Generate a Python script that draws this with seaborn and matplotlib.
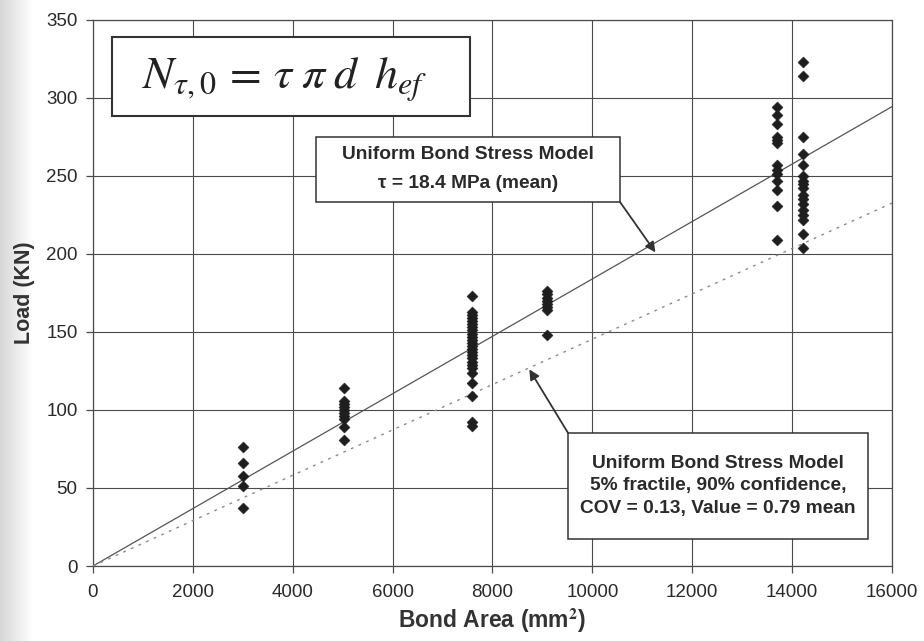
import numpy as np
import pandas as pd
import matplotlib
matplotlib.use("Agg")
import matplotlib.pyplot as plt
from matplotlib.patches import Rectangle
import seaborn as sns

# ---- data ----
area_groups = [3000, 5030, 7580, 9100, 13700, 14220]
loads_3000 = [76, 66, 58, 51, 37]
loads_5030 = [114, 106, 104, 102, 100, 98, 96, 94, 89, 81]
loads_7580 = [173, 163, 161, 159, 157, 155, 153, 151, 149, 147, 145, 143, 141,
              139, 137, 135, 133, 131, 129, 127, 124, 117, 109, 92, 90]
loads_9100 = [176, 174, 172, 170, 168, 166, 164, 148]
loads_13700 = [294, 289, 283, 275, 273, 271, 257, 254, 251, 247, 241, 231, 209]
loads_14220 = [323, 314, 275, 264, 257, 250, 247, 245, 242, 238, 235, 232,
               228, 225, 222, 213, 204]

tau_mean = 18.4          # MPa
fractile_factor = 0.79
line_area = [0, 16000]

x_ticks = [0, 2000, 4000, 6000, 8000, 10000, 12000, 14000, 16000]
y_ticks = [0, 50, 100, 150, 200, 250, 300, 350]

all_loads = [loads_3000, loads_5030, loads_7580, loads_9100, loads_13700, loads_14220]
rows = []
for a, ls in zip(area_groups, all_loads):
    for v in ls:
        rows.append((a, v))
df = pd.DataFrame(rows, columns=["area", "load"])

# ---- figure ----
sns.set_theme(style="white")
plt.rcParams['font.family'] = ['Liberation Sans', 'DejaVu Sans']
plt.rcParams['mathtext.fontset'] = 'stix'

fig = plt.figure(figsize=(9.24, 6.41), dpi=100)
fig.patch.set_facecolor("white")

# scanned left-edge shading
bg = fig.add_axes([0, 0, 0.035, 1], zorder=-10)
grad = np.linspace(0.84, 1.0, 64)[None, :]
bg.imshow(np.repeat(grad, 8, axis=0), cmap="gray", vmin=0, vmax=1,
          aspect="auto", extent=[0, 1, 0, 1])
bg.axis("off")

ax = fig.add_axes([0.1006, 0.117, 0.8648, 0.852])
ax.set_facecolor("white")

sns.scatterplot(data=df, x="area", y="load", marker="D", s=32,
                color="#1e1e1e", edgecolor="#1e1e1e", linewidth=0.3,
                ax=ax, zorder=5)

line_x = np.array(line_area, dtype=float)
mean_y = tau_mean * line_x / 1000.0
frac_y = fractile_factor * mean_y
ax.plot(line_x, mean_y, color="#555555", lw=0.9, zorder=4)
ax.plot(line_x, frac_y, color="#8a8a8a", lw=1.0, ls=(0, (2, 4)), zorder=4)

ax.set_xlim(0, 16000)
ax.set_ylim(0, 350)
ax.set_xticks(x_ticks)
ax.set_yticks(y_ticks)
ax.set_xticklabels([str(t) for t in x_ticks], fontsize=13.5, color="#2a2a2a")
ax.set_yticklabels([str(t) for t in y_ticks], fontsize=13.5, color="#2a2a2a")
ax.grid(True, color="#4a4a4a", lw=0.8)
ax.set_axisbelow(True)
for sp in ax.spines.values():
    sp.set_visible(True)
    sp.set_color("#4a4a4a")
    sp.set_linewidth(0.9)
ax.tick_params(axis="both", direction="out", length=5, width=0.9,
               color="#4a4a4a", left=True, bottom=True)
ax.tick_params(axis="x", pad=8)
ax.tick_params(axis="y", pad=6)

ax.set_xlabel("Bond Area (mm$^\\mathbf{2}$)", fontsize=16.5, fontweight="bold",
              color="#333333", labelpad=4)
ax.set_ylabel("Load (KN)", fontsize=15.5, fontweight="bold", color="#333333",
              labelpad=8)

box_kw = dict(fill=True, fc="white", ec="#333333", zorder=9)

# equation box
ax.add_patch(Rectangle((380, 288.5), 7549 - 380, 339 - 288.5, lw=1.5, **box_kw))
ax.text(3845, 312, r"$N_{\tau,0} \,=\, \tau\;\pi\;d\;\;h_{ef}$", fontsize=33,
        ha="center", va="center", color="#222222", zorder=10)

# annotation box 1
ax.add_patch(Rectangle((4465, 233.3), 10553 - 4465, 275 - 233.3, lw=1.1, **box_kw))
ax.text(7515, 254.5, "Uniform Bond Stress Model\n\u03c4 = 18.4 MPa (mean)",
        ha="center", va="center", fontsize=13.8, fontweight="bold",
        color="#2a2a2a", linespacing=1.95, zorder=10)
ax.annotate("", xy=(11263, 201), xytext=(10553, 233.3),
            arrowprops=dict(arrowstyle="-|>", color="#333333", lw=1.3,
                            mutation_scale=15, shrinkA=0, shrinkB=0),
            zorder=10)

# annotation box 2
ax.add_patch(Rectangle((9512, 17.3), 15519 - 9512, 85.3 - 17.3, lw=1.1, **box_kw))
ax.text(12515, 51.3,
        "Uniform Bond Stress Model\n5% fractile, 90% confidence,\nCOV = 0.13, Value = 0.79 mean",
        ha="center", va="center", fontsize=13.8, fontweight="bold",
        color="#2a2a2a", linespacing=1.45, zorder=10)
ax.annotate("", xy=(8737, 126), xytext=(9512, 85.3),
            arrowprops=dict(arrowstyle="-|>", color="#333333", lw=1.3,
                            mutation_scale=15, shrinkA=0, shrinkB=0),
            zorder=10)

fig.savefig("out.png", dpi=100, facecolor=fig.get_facecolor())
